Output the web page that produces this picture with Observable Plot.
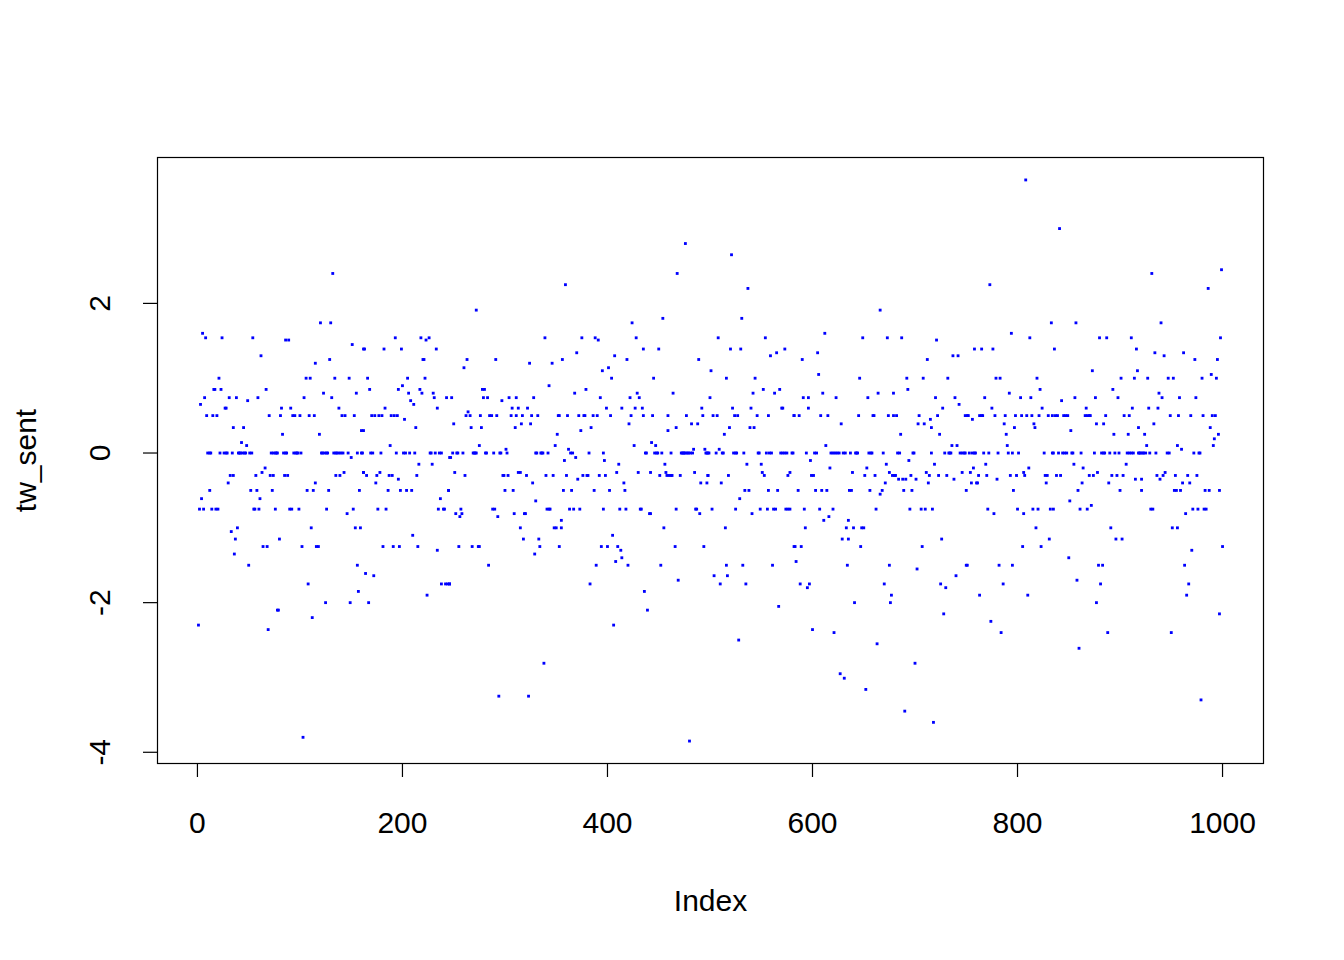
<!DOCTYPE html>
<html><head><meta charset="utf-8">
<script src="https://cdn.jsdelivr.net/npm/d3@7"></script>
<script src="https://cdn.jsdelivr.net/npm/@observablehq/plot@0.6"></script>
<style>body{margin:0;background:#fff}</style>
</head><body><div id="chart"></div>
<script>
// tick labels
const xTicks = [0, 200, 400, 600, 800, 1000];
const yTicks = [-4, -2, 0, 2];
const xLabel = "Index";
const yLabel = "tw_sent";

// tw_sent values: [index, value] pairs per segment, plus indices whose value is 0
const seg1 = [[5,1.60],[8,1.54],[24,1.54],[54,1.54],[62,1.30],[21,1.00],[16,0.85],[17,0.85],[23,0.85],[67,0.85],[7,0.74],[31,0.74],[38,0.74],[59,0.74],[49,0.70],[3,0.65],[27,0.60],[28,0.60],[9,0.50],[15,0.50],[19,0.50],[70,0.50],[35,0.34],[45,0.34],[43,0.14],[48,0.10],[66,-0.20],[63,-0.26],[32,-0.30],[35,-0.30],[57,-0.30],[71,-0.30],[74,-0.30],[30,-0.40],[12,-0.50],[52,-0.50],[58,-0.50],[73,-0.50],[4,-0.61],[61,-0.61],[2,-0.75],[6,-0.75],[14,-0.75],[18,-0.75],[20,-0.75],[55,-0.75],[56,-0.75],[60,-0.75],[76,-0.75],[33,-1.05],[39,-1.00],[37,-1.15],[64,-1.25],[68,-1.25],[36,-1.35],[50,-1.50],[78,-2.10],[1,-2.30],[69,-2.36]];
const zero1 = [10,12,13,22,26,28,29,34,40,41,42,44,46,47,51,53,72,74,76,77];

const seg2 = [[132,2.40],[120,1.74],[130,1.74],[86,1.51],[89,1.51],[151,1.45],[162,1.39],[115,1.20],[129,1.25],[106,1.00],[110,1.00],[134,1.00],[148,1.00],[123,0.80],[155,0.80],[104,0.74],[131,0.74],[82,0.60],[91,0.60],[138,0.60],[81,0.50],[93,0.50],[95,0.50],[100,0.50],[109,0.50],[114,0.50],[141,0.50],[144,0.50],[153,0.50],[83,0.25],[119,0.25],[160,0.30],[150,-0.06],[85,-0.30],[88,-0.30],[135,-0.30],[139,-0.30],[143,-0.26],[162,-0.26],[115,-0.40],[107,-0.50],[113,-0.50],[128,-0.50],[158,-0.50],[90,-0.75],[92,-0.75],[99,-0.75],[126,-0.75],[152,-0.75],[146,-0.81],[111,-1.00],[154,-1.00],[159,-1.00],[80,-1.15],[102,-1.25],[116,-1.25],[118,-1.25],[156,-1.50],[108,-1.75],[157,-1.85],[125,-2.00],[149,-2.00],[79,-2.10],[112,-2.20],[103,-3.80]];
const zero2 = [78,84,86,87,94,96,97,98,101,121,122,124,126,127,133,135,136,138,140,142,147,156,160];

const seg3 = [[193,1.54],[218,1.54],[223,1.51],[226,1.54],[163,1.39],[182,1.39],[199,1.39],[233,1.39],[220,1.25],[221,1.25],[166,1.00],[205,1.00],[222,1.00],[168,0.85],[196,0.85],[217,0.85],[200,0.90],[206,0.80],[219,0.80],[230,0.80],[231,0.74],[243,0.74],[208,0.70],[211,0.65],[183,0.60],[234,0.60],[170,0.50],[173,0.50],[177,0.50],[180,0.50],[189,0.50],[192,0.50],[195,0.50],[202,0.45],[162,0.30],[213,0.34],[188,0.10],[246,-0.06],[216,-0.15],[229,-0.15],[162,-0.26],[178,-0.26],[165,-0.30],[175,-0.30],[187,-0.30],[190,-0.30],[214,-0.30],[196,-0.35],[174,-0.40],[186,-0.50],[198,-0.50],[204,-0.50],[209,-0.50],[245,-0.50],[237,-0.61],[176,-0.75],[184,-0.75],[235,-0.75],[240,-0.75],[241,-0.75],[210,-1.10],[181,-1.25],[191,-1.25],[197,-1.25],[215,-1.25],[234,-1.30],[164,-1.61],[172,-1.64],[238,-1.75],[242,-1.75],[244,-1.75],[246,-1.75],[224,-1.90],[167,-2.00]];
const zero3 = [161,169,171,179,194,201,203,207,212,227,228,232,236,238];

const seg4 = [[272,1.91],[263,1.25],[291,1.25],[260,1.14],[324,1.20],[278,0.85],[280,0.85],[248,0.74],[279,0.74],[283,0.74],[304,0.74],[311,0.74],[328,0.74],[297,0.70],[307,0.60],[313,0.60],[322,0.60],[264,0.55],[262,0.50],[266,0.50],[276,0.50],[285,0.50],[287,0.50],[292,0.50],[306,0.50],[311,0.50],[317,0.50],[326,0.50],[250,0.39],[316,0.39],[325,0.39],[267,0.34],[277,0.34],[310,0.34],[275,0.10],[301,0.05],[247,-0.06],[251,-0.26],[261,-0.30],[298,-0.30],[299,-0.30],[303,-0.30],[313,-0.26],[315,-0.26],[321,-0.30],[327,-0.40],[245,-0.50],[300,-0.50],[308,-0.50],[330,-0.64],[257,-0.75],[252,-0.81],[258,-0.81],[256,-0.85],[288,-0.75],[290,-0.75],[293,-0.85],[309,-0.81],[319,-0.81],[320,-0.81],[315,-1.00],[318,-1.15],[255,-1.25],[268,-1.25],[274,-1.25],[275,-1.25],[329,-1.35],[284,-1.50],[246,-1.75],[294,-3.25],[323,-3.25]];
const zero4 = [249,253,254,259,269,270,271,272,281,282,289,295,296,302,330];

const seg5 = [[359,2.25],[339,1.54],[375,1.54],[388,1.54],[391,1.51],[370,1.34],[407,1.30],[346,1.20],[356,1.25],[395,1.10],[401,1.14],[404,1.00],[343,0.90],[379,0.85],[368,0.80],[393,0.74],[399,0.60],[414,0.60],[332,0.50],[352,0.50],[353,0.50],[361,0.50],[372,0.50],[377,0.50],[378,0.50],[386,0.50],[390,0.50],[403,0.50],[384,0.34],[374,0.30],[351,0.25],[349,0.10],[362,0.05],[369,-0.06],[358,-0.10],[397,-0.10],[411,-0.15],[409,-0.26],[340,-0.30],[347,-0.30],[360,-0.30],[376,-0.30],[380,-0.30],[381,-0.30],[392,-0.30],[398,-0.30],[371,-0.35],[357,-0.50],[365,-0.50],[387,-0.50],[402,-0.50],[341,-0.75],[343,-0.75],[344,-0.75],[363,-0.75],[367,-0.75],[373,-0.75],[396,-0.75],[412,-0.75],[355,-0.90],[348,-1.00],[350,-1.00],[355,-1.00],[333,-1.15],[405,-1.10],[334,-1.25],[353,-1.25],[394,-1.25],[400,-1.25],[410,-1.25],[413,-1.30],[408,-1.45],[414,-1.40],[389,-1.50],[383,-1.75],[406,-2.30],[338,-2.81]];
const zero5 = [331,335,336,337,342,364,366,382,396];

const seg6 = [[476,2.80],[468,2.40],[454,1.80],[424,1.74],[428,1.54],[435,1.39],[450,1.39],[419,1.25],[489,1.25],[445,1.00],[429,0.80],[464,0.80],[422,0.74],[431,0.74],[427,0.60],[434,0.60],[492,0.60],[423,0.50],[435,0.50],[444,0.50],[459,0.50],[477,0.50],[493,0.50],[421,0.39],[482,0.39],[488,0.39],[467,0.34],[459,0.30],[426,0.10],[443,0.14],[447,0.10],[484,0.05],[495,0.05],[456,-0.15],[430,-0.26],[442,-0.26],[457,-0.26],[485,-0.26],[498,-0.30],[451,-0.30],[458,-0.30],[460,-0.30],[462,-0.30],[463,-0.30],[471,-0.30],[416,-0.40],[491,-0.40],[497,-0.40],[417,-0.50],[418,-0.75],[432,-0.75],[433,-0.75],[467,-0.75],[486,-0.75],[487,-0.75],[441,-0.81],[442,-0.81],[490,-0.81],[455,-1.00],[466,-1.25],[494,-1.25],[420,-1.50],[452,-1.50],[469,-1.70],[436,-1.85],[439,-2.10],[480,-3.85]];
const zero6 = [437,438,446,448,449,453,462,472,473,474,475,476,478,479,481,483,496,497];

const seg7 = [[521,2.65],[537,2.20],[531,1.80],[508,1.54],[554,1.54],[520,1.39],[530,1.39],[573,1.39],[559,1.30],[565,1.34],[501,1.10],[516,1.00],[544,1.00],[542,0.80],[552,0.85],[563,0.80],[568,0.85],[500,0.74],[522,0.60],[540,0.60],[570,0.60],[571,0.60],[503,0.50],[507,0.50],[524,0.50],[527,0.50],[546,0.50],[557,0.50],[582,0.50],[519,0.34],[539,0.34],[543,0.34],[514,0.25],[509,0.05],[536,-0.15],[550,-0.15],[498,-0.30],[518,-0.30],[551,-0.26],[553,-0.30],[576,-0.30],[578,-0.26],[511,-0.40],[534,-0.50],[538,-0.50],[557,-0.50],[566,-0.50],[529,-0.61],[502,-0.75],[525,-0.75],[549,-0.75],[556,-0.75],[562,-0.75],[564,-0.75],[574,-0.75],[576,-0.75],[578,-0.75],[541,-0.81],[515,-1.00],[582,-1.25],[516,-1.50],[532,-1.50],[561,-1.50],[504,-1.64],[517,-1.64],[510,-1.75],[535,-1.75],[567,-2.05],[528,-2.50]];
const zero7 = [498,499,506,512,513,523,525,526,533,547,548,555,558,560,569,571,573,575,580,581];

const seg8 = [[666,1.91],[612,1.60],[649,1.54],[605,1.34],[590,1.25],[606,1.05],[646,1.00],[610,0.80],[664,0.80],[591,0.74],[596,0.74],[623,0.74],[654,0.74],[596,0.60],[582,0.50],[587,0.50],[608,0.50],[615,0.50],[645,0.50],[659,0.50],[660,0.50],[628,0.39],[613,0.10],[598,-0.10],[617,-0.20],[653,-0.20],[639,-0.26],[599,-0.30],[601,-0.30],[651,-0.30],[661,-0.30],[586,-0.50],[603,-0.50],[609,-0.50],[614,-0.50],[636,-0.50],[638,-0.50],[656,-0.50],[666,-0.55],[592,-0.75],[607,-0.75],[620,-0.75],[662,-0.75],[616,-0.85],[611,-0.90],[635,-0.90],[593,-1.00],[633,-1.00],[640,-1.00],[648,-1.00],[650,-1.00],[629,-1.15],[635,-1.15],[583,-1.25],[589,-1.25],[647,-1.25],[584,-1.45],[634,-1.50],[588,-1.75],[597,-1.75],[595,-1.80],[641,-2.00],[600,-2.36],[621,-2.40],[663,-2.55],[627,-2.95],[631,-3.01],[652,-3.16]];
const zero8 = [594,602,604,618,620,622,624,626,630,632,637,642,643,644,655,657,658];

const seg9 = [[673,1.54],[687,1.54],[721,1.51],[712,1.25],[737,1.30],[742,1.30],[692,1.00],[708,1.00],[732,1.00],[679,0.80],[693,0.85],[720,0.74],[739,0.74],[743,0.65],[727,0.60],[674,0.50],[679,0.50],[682,0.50],[704,0.50],[722,0.50],[749,0.50],[703,0.39],[709,0.39],[715,0.45],[716,0.34],[686,0.25],[724,0.25],[736,0.10],[741,0.10],[694,-0.10],[672,-0.15],[719,-0.15],[675,-0.26],[711,-0.26],[746,-0.26],[678,-0.30],[680,-0.30],[681,-0.30],[696,-0.30],[714,-0.30],[723,-0.30],[731,-0.30],[684,-0.35],[688,-0.35],[691,-0.35],[701,-0.35],[738,-0.35],[671,-0.40],[713,-0.40],[668,-0.50],[689,-0.50],[697,-0.50],[750,-0.50],[695,-0.75],[706,-0.75],[710,-0.75],[717,-0.75],[726,-1.15],[707,-1.25],[675,-1.50],[750,-1.50],[702,-1.55],[740,-1.64],[670,-1.75],[725,-1.75],[730,-1.80],[677,-1.90],[676,-2.00],[728,-2.15],[700,-2.81],[690,-3.45],[718,-3.60]];
const zero9 = [669,683,685,698,699,716,729,733,734,735,744,746,748];

const seg10 = [[808,3.65],[773,2.25],[833,1.74],[794,1.60],[812,1.54],[758,1.39],[765,1.39],[776,1.39],[779,1.00],[783,1.00],[819,1.00],[822,0.85],[792,0.80],[768,0.74],[803,0.74],[813,0.74],[775,0.60],[824,0.60],[751,0.50],[752,0.50],[763,0.50],[765,0.50],[766,0.50],[778,0.50],[788,0.50],[798,0.50],[804,0.50],[809,0.50],[814,0.50],[821,0.50],[830,0.50],[834,0.50],[756,0.45],[787,0.39],[816,0.39],[797,0.34],[817,0.34],[789,0.25],[790,0.10],[769,-0.15],[757,-0.20],[811,-0.20],[754,-0.26],[806,-0.26],[762,-0.30],[770,-0.30],[793,-0.30],[799,-0.30],[807,-0.30],[827,-0.30],[829,-0.30],[780,-0.35],[755,-0.40],[760,-0.40],[761,-0.40],[828,-0.40],[796,-0.50],[771,-0.75],[800,-0.75],[815,-0.75],[820,-0.75],[832,-0.75],[777,-0.81],[806,-0.81],[818,-1.00],[831,-1.15],[805,-1.25],[823,-1.25],[751,-1.50],[782,-1.50],[795,-1.50],[786,-1.75],[763,-1.90],[810,-1.90],[774,-2.25],[784,-2.40]];
const zero10 = [749,753,756,758,759,767,772,781,791,795,801,826,834];

const seg11 = [[841,3.00],[857,1.74],[880,1.54],[887,1.54],[911,1.54],[836,1.39],[916,1.39],[873,1.10],[917,1.10],[901,1.00],[914,1.00],[893,0.85],[843,0.70],[856,0.74],[876,0.74],[898,0.74],[867,0.60],[912,0.60],[837,0.50],[839,0.50],[845,0.50],[847,0.50],[849,0.50],[866,0.50],[868,0.50],[870,0.50],[871,0.50],[886,0.50],[904,0.50],[909,0.50],[877,0.39],[884,0.39],[918,0.34],[852,0.30],[894,0.25],[908,0.25],[855,-0.15],[906,-0.15],[864,-0.20],[878,-0.26],[838,-0.30],[842,-0.30],[870,-0.30],[874,-0.30],[892,-0.30],[897,-0.30],[903,-0.30],[915,-0.35],[863,-0.40],[889,-0.40],[859,-0.50],[900,-0.50],[851,-0.64],[872,-0.70],[835,-0.75],[861,-0.75],[868,-0.75],[891,-1.00],[896,-1.15],[902,-1.15],[850,-1.40],[879,-1.50],[883,-1.50],[858,-1.70],[881,-1.75],[877,-2.00],[888,-2.40],[860,-2.61]];
const zero11 = [835,840,844,846,848,853,854,862,875,882,884,885,890,895,899,907,909,911,913,918];

const seg12 = [[999,2.45],[931,2.40],[986,2.20],[940,1.74],[998,1.54],[934,1.34],[943,1.30],[962,1.34],[973,1.25],[995,1.25],[989,1.05],[927,1.00],[947,1.00],[952,1.00],[980,1.00],[994,1.00],[938,0.80],[941,0.74],[958,0.74],[974,0.74],[928,0.60],[937,0.60],[949,0.50],[957,0.50],[969,0.50],[981,0.50],[990,0.50],[993,0.50],[933,0.39],[988,0.34],[924,0.25],[996,0.25],[992,0.19],[926,0.10],[956,0.10],[991,0.10],[960,0.05],[944,-0.26],[936,-0.30],[942,-0.30],[954,-0.30],[966,-0.30],[975,-0.30],[921,-0.35],[939,-0.35],[961,-0.40],[968,-0.40],[921,-0.50],[953,-0.50],[955,-0.50],[959,-0.50],[983,-0.50],[987,-0.50],[997,-0.50],[930,-0.75],[932,-0.75],[971,-0.75],[976,-0.75],[982,-0.75],[984,-0.75],[964,-0.81],[951,-1.00],[956,-1.00],[970,-1.30],[1000,-1.25],[963,-1.50],[967,-1.75],[965,-1.90],[997,-2.15],[950,-2.40],[979,-3.30]];
const zero12 = [919,920,922,923,925,929,935,946,948,972,977,978];

const pairs = [seg1,seg2,seg3,seg4,seg5,seg6,seg7,seg8,seg9,seg10,seg11,seg12].flat();
const zeros = [zero1,zero2,zero3,zero4,zero5,zero6,zero7,zero8,zero9,zero10,zero11,zero12].flat();
const data = pairs.map(([i, v]) => ({i, v})).concat(zeros.map(i => ({i, v: 0})));

const chart = Plot.plot({
  width: 1344,
  height: 960,
  marginLeft: 157,
  marginRight: 81,
  marginTop: 157,
  marginBottom: 197,
  x: {domain: [-38.96, 1039.96]},
  y: {domain: [-4.15, 3.95]},
  style: {fontFamily: "Arial, 'Liberation Sans', sans-serif", color: "black", background: "white"},
  marks: [
    Plot.frame({stroke: "black", strokeWidth: 1.2}),
    Plot.axisX({ticks: xTicks, tickSize: 14, tickFormat: () => "", label: null, strokeWidth: 1.2}),
    Plot.axisY({ticks: yTicks, tickSize: 14, tickFormat: () => "", label: null, strokeWidth: 1.2}),
    Plot.text(xTicks, {x: d => d, frameAnchor: "bottom", dy: 60, text: d => String(d), fontSize: 30, lineAnchor: "middle", fill: "black"}),
    Plot.text(yTicks, {y: d => d, frameAnchor: "left", dx: -57, rotate: -90, text: d => String(d), fontSize: 30, lineAnchor: "middle", textAnchor: "middle", fill: "black"}),
    Plot.text([xLabel], {frameAnchor: "bottom", dy: 138, text: d => d, fontSize: 30, lineAnchor: "middle", fill: "black"}),
    Plot.text([yLabel], {frameAnchor: "left", dx: -131, rotate: -90, text: d => d, fontSize: 30, lineAnchor: "middle", textAnchor: "middle", fill: "black"}),
    Plot.dot(data, {x: "i", y: "v", r: 1.6, symbol: "square", fill: "blue", stroke: "none"})
  ]
});
document.getElementById("chart").appendChild(chart);
</script>
</body></html>
